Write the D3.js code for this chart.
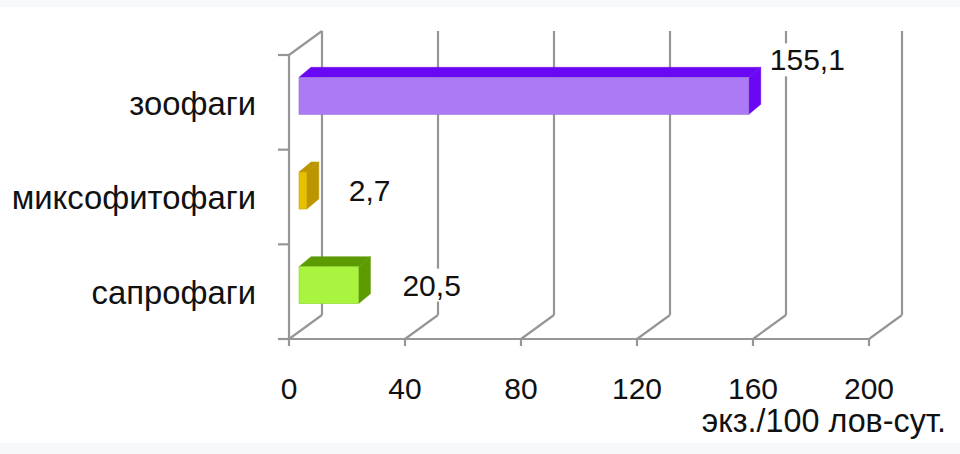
<!DOCTYPE html>
<html><head><meta charset="utf-8">
<script src="https://cdn.jsdelivr.net/npm/d3@7"></script>
<style>
html,body{margin:0;padding:0;background:#fff;}
svg{display:block;}
</style></head>
<body>
<svg id="chart" width="960" height="454"></svg>
<script>
const categories = ["зоофаги", "миксофитофаги", "сапрофаги"];
const values = [155.1, 2.7, 20.5];
const valueLabels = ["155,1", "2,7", "20,5"];
const tickValues = [0, 40, 80, 120, 160, 200];
const axisTitle = "экз./100 лов-сут.";
const frontColors = ["#ad7af6", "#e8c000", "#a9f43e"];
const sideColors = ["#6a08f4", "#bb9600", "#5c9c02"];

const svg = d3.select("#chart");
svg.append("rect").attr("x",0).attr("y",0).attr("width",960).attr("height",7).attr("fill","#f7f8fa");
svg.append("rect").attr("x",0).attr("y",443).attr("width",960).attr("height",11).attr("fill","#f7f8fa");

const x = d3.scaleLinear().domain([0, 200]).range([289, 869]);
const y = d3.scaleBand().domain(categories).range([55, 339]);
const DX = 33, DY = -24;       // wall depth
const gridColor = "#969696";
const font = "'Liberation Sans', Arial, sans-serif";

const g = svg.append("g");
tickValues.forEach(t => {
  const xb = x(t) + DX;
  g.append("line").attr("x1", xb).attr("x2", xb).attr("y1", y.range()[0] + DY).attr("y2", y.range()[1] + DY)
    .attr("stroke", gridColor).attr("stroke-width", 2.2);
  g.append("line").attr("x1", x(t)).attr("y1", y.range()[1]).attr("x2", xb).attr("y2", y.range()[1] + DY)
    .attr("stroke", gridColor).attr("stroke-width", 2.2);
});
g.append("line").attr("x1", x(0)).attr("x2", x(0)).attr("y1", y.range()[0]).attr("y2", y.range()[1])
  .attr("stroke", gridColor).attr("stroke-width", 2.2);
g.append("line").attr("x1", x(0)).attr("y1", y.range()[0]).attr("x2", x(0) + DX).attr("y2", y.range()[0] + DY)
  .attr("stroke", gridColor).attr("stroke-width", 2.2);
g.append("line").attr("x1", x(0) - 11).attr("x2", x(200)).attr("y1", y.range()[1]).attr("y2", y.range()[1])
  .attr("stroke", gridColor).attr("stroke-width", 2.2);
tickValues.forEach(t => {
  g.append("line").attr("x1", x(t)).attr("x2", x(t)).attr("y1", y.range()[1]).attr("y2", y.range()[1] + 7)
    .attr("stroke", gridColor).attr("stroke-width", 2.2);
});
const yTicks = categories.map(c => y(c)).concat([y.range()[1]]);
yTicks.forEach(v => {
  g.append("line").attr("x1", x(0) - 11).attr("x2", x(0)).attr("y1", v).attr("y2", v)
    .attr("stroke", gridColor).attr("stroke-width", 2.2);
});

// bars
const BX = 10, BY = -6.5, BH = 37, bdx = 12, bdy = -10;
categories.forEach((c, i) => {
  const cy = y(c) + y.bandwidth() / 2 + BY;
  const x0 = x(0) + BX, x1 = x(values[i]) + BX;
  const top = cy - BH / 2, bot = cy + BH / 2;
  const side = sideColors[i];
  g.append("path").attr("d", `M${x0},${top} L${x0+bdx},${top+bdy} L${x1+bdx},${top+bdy} L${x1},${top} Z`)
    .attr("fill", side).attr("stroke", side).attr("stroke-width", 0.5);
  g.append("path").attr("d", `M${x1},${top} L${x1+bdx},${top+bdy} L${x1+bdx},${bot+bdy} L${x1},${bot} Z`)
    .attr("fill", side).attr("stroke", side).attr("stroke-width", 0.5);
  g.append("rect").attr("x", x0).attr("y", top).attr("width", x1 - x0).attr("height", BH)
    .attr("fill", frontColors[i]).attr("stroke", d3.color(frontColors[i]).darker(0.4)).attr("stroke-width", 0.6);
});

// value labels
const labelDx = [31, 52, 54];
const labelDy = [-36, 0, 0];
categories.forEach((c, i) => {
  const cy = y(c) + y.bandwidth() / 2 + BY + labelDy[i];
  const lx = x(values[i]) + labelDx[i];
  const t = g.append("text").attr("x", lx).attr("y", cy).attr("dy", "0.35em")
    .attr("font-family", font).attr("font-size", 30).attr("fill", "#111").text(valueLabels[i]);
  const bb = t.node().getBBox();
  g.insert("rect", () => t.node()).attr("x", bb.x - 3).attr("y", bb.y).attr("width", bb.width + 6).attr("height", bb.height)
    .attr("fill", "#fff");
});

// category labels
categories.forEach(c => {
  g.append("text").attr("x", 256).attr("y", y(c) + y.bandwidth() / 2 + 1).attr("dy", "0.35em")
    .attr("text-anchor", "end").attr("font-family", font).attr("font-size", 32.8).attr("fill", "#111").text(c);
});

// tick labels
tickValues.forEach(t => {
  g.append("text").attr("x", x(t)).attr("y", 388).attr("dy", "0.35em").attr("text-anchor", "middle")
    .attr("font-family", font).attr("font-size", 30).attr("fill", "#111").text(t);
});
g.append("text").attr("x", 946).attr("y", 421).attr("dy", "0.35em").attr("text-anchor", "end")
  .attr("font-family", font).attr("font-size", 32.3).attr("fill", "#111").text(axisTitle);
</script>
</body></html>
